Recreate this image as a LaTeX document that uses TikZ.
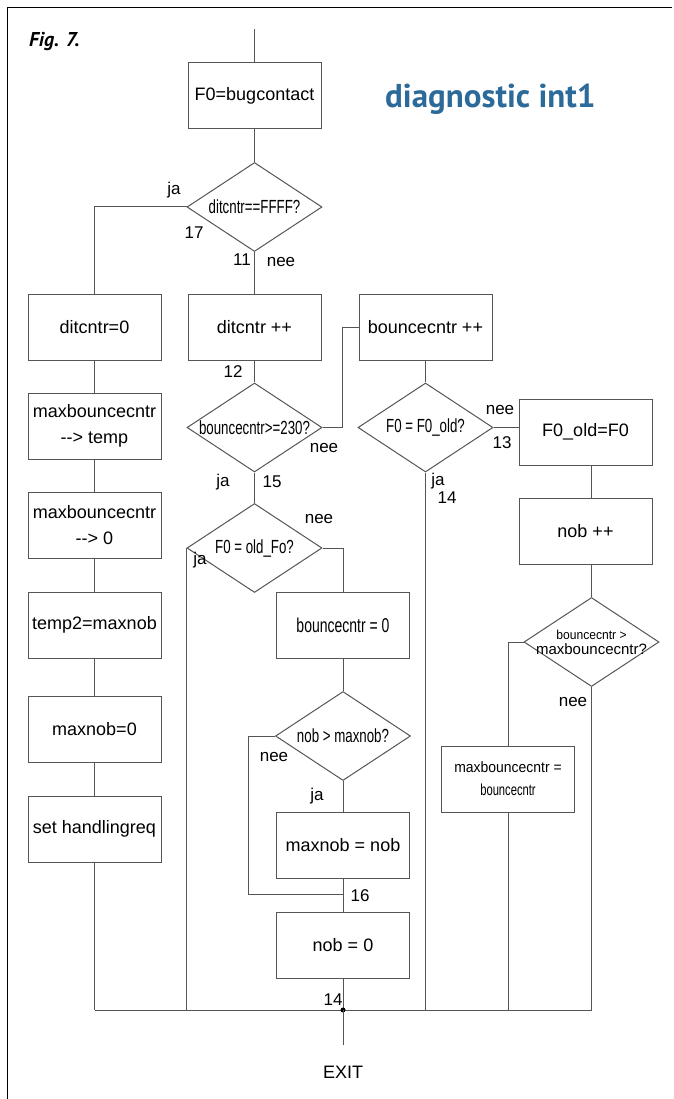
\documentclass[tikz,border=0pt]{standalone}
\usepackage{fontspec}
\setmainfont{Liberation Sans}
\newfontfamily\condfont[FakeStretch=0.7]{Liberation Sans}
\newfontfamily\semifont[FakeStretch=0.93]{Liberation Sans}
\newfontfamily\headfont{PT Sans}
\usetikzlibrary{shapes.geometric}
\definecolor{linegray}{RGB}{85,85,85}
\definecolor{titleblue}{RGB}{44,106,154}
\tikzset{
  procbox/.style={draw=linegray, line width=1pt, minimum width=133pt, minimum height=66pt,
    inner sep=0pt, align=center, font=\fontsize{18}{26}\selectfont},
  decision/.style={diamond, aspect=1.5, draw=linegray, line width=1pt, minimum width=135pt,
    minimum height=89pt, inner sep=0pt, align=center, font=\condfont\fontsize{19}{20}\selectfont},
  lbl/.style={inner sep=0pt, font=\fontsize{17}{17}\selectfont},
  link/.style={draw=linegray, line width=1pt},
}
\begin{document}
\begin{tikzpicture}[x=1pt,y=-1pt]
    \useasboundingbox (0,0) rectangle (673,1099);
    %% frame and headings
    \draw[line width=1.3pt] (7.5,1099) -- (7.5,7.5) -- (672,7.5);
    \node[anchor=base west, inner sep=0pt, font=\headfont\bfseries\itshape\fontsize{20}{20}\selectfont] (fig) at (29,47) {Fig. 7.};
    \node[anchor=base west, inner sep=0pt, text=titleblue, font=\headfont\bfseries\fontsize{33}{34}\selectfont] (title) at (385,108) {diagnostic int1};
    %% main column
    \coordinate (entry) at (254.5,29);
    \node[procbox] (bug) at (254.5,96) {F0=bugcontact};
    \node[decision] (ditq) at (254.5,207) {ditcntr==FFFF?};
    \node[procbox] (ditinc) at (254.5,327) {ditcntr ++};
    \node[decision] (bncq) at (254.5,427.5) {bouncecntr>=230?};
    \node[decision] (oldq) at (254.5,548) {F0 = old\_Fo?};
    %% left column
    \node[procbox] (ditzero) at (94.5,327) {ditcntr=0};
    \node[procbox] (mbtemp) at (94.5,426) {maxbouncecntr\\{-}{-}> temp};
    \node[procbox] (mbzero) at (94.5,525) {maxbouncecntr\\{-}{-}> 0};
    \node[procbox] (tmpnob) at (94.5,625) {temp2=maxnob};
    \node[procbox] (nobzero) at (94.5,729.5) {maxnob=0};
    \node[procbox] (sethr) at (94.5,829) {set handlingreq};
    %% nob branch
    \node[procbox, font=\condfont\fontsize{20}{24}\selectfont] (bzero) at (343,625) {bouncecntr = 0};
    \node[decision] (nobq) at (343,736) {nob > maxnob?};
    \node[procbox] (maxnob) at (343,845) {maxnob = nob};
    \node[procbox] (nobreset) at (343,945) {nob = 0};
    \coordinate (j16) at (343,894);
    %% bounce column
    \node[procbox] (binc) at (425.5,327) {bouncecntr ++};
    \node[decision] (f0q) at (425.5,427.5) {F0 = F0\_old?};
    %% right column
    \node[procbox] (f0old) at (585.5,432) {F0\_old=F0};
    \node[procbox] (nobinc) at (585.5,531) {nob ++};
    \node[decision] (mbq) at (591.5,642) {};
    \node[inner sep=0pt, align=center, font=\fontsize{15}{15}\selectfont] (mbqtext) at (mbq.center)
        {{\semifont\fontsize{13}{15}\selectfont bouncecntr >}\\maxbouncecntr?};
    \node[procbox, font=\fontsize{15}{23}\selectfont] (mbset) at (508,779)
        {{\semifont maxbouncecntr =}\\{\condfont\fontsize{16}{23}\selectfont bouncecntr}};
    %% connectors
    \draw[link] (entry) -- (bug);
    \draw[link] (bug) -- (ditq);
    \draw[link] (ditq.west) -| (ditzero.north);
    \draw[link] (ditq) -- (ditinc);
    \draw[link] (ditzero) -- (mbtemp) -- (mbzero) -- (tmpnob) -- (nobzero) -- (sethr);
    \draw[link] (ditinc) -- (bncq);
    \draw[link] (bncq.east) -- ++(20,0) |- (binc.west);
    \draw[link] (bncq) -- (oldq);
    \draw[link] (oldq.east) -| (bzero.north);
    \draw[link] (bzero) -- (nobq);
    \draw[link] (nobq) -- (maxnob);
    \draw[link] (maxnob) -- (nobreset);
    \draw[link] (nobq.west) -- ++(-27,0) |- (j16);
    \draw[link] (binc) -- (f0q);
    \draw[link] (f0q.east) -- (f0q.east -| f0old.west);
    \draw[link] (f0old.south -| mbq) -- (nobinc.north -| mbq);
    \draw[link] (nobinc.south -| mbq) -- (mbq.north);
    \draw[link] (mbq.west) -| (mbset.north);
    %% exit bus
    \coordinate (bus) at (343,1010);
    \draw[link] (sethr) -- (sethr |- bus);
    \draw[link] (oldq.west) -- (oldq.west |- bus);
    \draw[link] (nobreset) -- (bus);
    \draw[link] (f0q) -- (f0q |- bus);
    \draw[link] (mbset) -- (mbset |- bus);
    \draw[link] (mbq) -- (mbq |- bus);
    \draw[link] (sethr |- bus) -- (mbq |- bus);
    \fill (bus) circle (2.5);
    \node[font=\fontsize{18}{18}\selectfont, inner sep=0pt] (exit) at (343,1072) {EXIT};
    \draw[link, shorten >=21pt] (bus) -- (exit.north);
    %% branch labels
    \node[lbl] (ja1) at (174,190) {ja};
    \node[lbl] (n17) at (194,233) {17};
    \node[lbl] (n11) at (242,260) {11};
    \node[lbl] (nee1) at (281,262) {nee};
    \node[lbl] (n12) at (233,372) {12};
    \node[lbl] (nee2) at (324,448) {nee};
    \node[lbl] (ja2) at (223,482) {ja};
    \node[lbl] (n15) at (272,482) {15};
    \node[lbl] (nee3) at (319,519) {nee};
    \node[lbl] (ja3) at (200,560) {ja};
    \node[lbl] (nee4) at (274,757) {nee};
    \node[lbl] (ja4) at (317,796) {ja};
    \node[lbl] (n16) at (360,896) {16};
    \node[lbl] (n14b) at (333,1000) {14};
    \node[lbl] (nee5) at (500,410) {nee};
    \node[lbl] (n13) at (502,443) {13};
    \node[lbl] (ja5) at (438,481) {ja};
    \node[lbl] (n14a) at (447,498) {14};
    \node[lbl] (nee6) at (573,702) {nee};
\end{tikzpicture}
\end{document}
